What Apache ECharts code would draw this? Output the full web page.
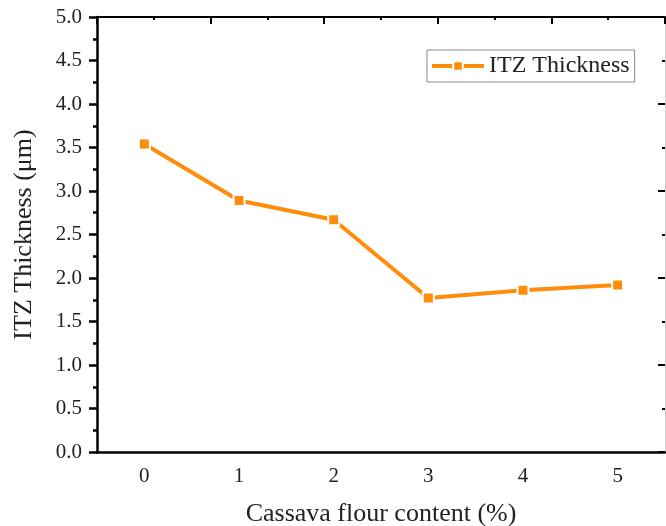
<!DOCTYPE html>
<html>
<head>
<meta charset="utf-8">
<script src="https://cdn.jsdelivr.net/npm/echarts@6/dist/echarts.min.js"></script>
<style>html,body{margin:0;padding:0;background:#fff;}#c{width:666px;height:526px;}</style>
</head>
<body>
<div id="c"></div>
<script>
const categories = ['0', '1', '2', '3', '4', '5'];
const itzThickness = [3.54, 2.89, 2.67, 1.77, 1.86, 1.92];
const seriesName = 'ITZ Thickness';
const xTitle = 'Cassava flour content (%)';
const yTitle = 'ITZ Thickness (μm)';

const FONT = '"Liberation Serif", "Times New Roman", serif';
const ORANGE = '#FF8C0A';
const chart = echarts.init(document.getElementById('c'));
chart.setOption({
  animation: false,
  backgroundColor: '#fff',
  textStyle: { fontFamily: FONT },
  grid: { left: 97, top: 17, right: 1, bottom: 74, containLabel: false, outerBoundsMode: 'none' },
  legend: {
    left: 427, top: 50,
    data: [seriesName],
    itemWidth: 52, itemHeight: 12,
    itemGap: 5,
    padding: [4, 5, 4, 3],
    borderColor: '#888', borderWidth: 1,
    lineStyle: { width: 4 },
    textStyle: { fontFamily: FONT, fontSize: 24, color: '#222' }
  },
  xAxis: [
    {
      type: 'category', data: categories, position: 'bottom', boundaryGap: true,
      axisLine: { lineStyle: { color: '#000', width: 2.5 } },
      axisTick: { alignWithLabel: true, length: 7, lineStyle: { color: '#000', width: 2.5 } },
      axisLabel: { fontFamily: FONT, fontSize: 21, color: '#222', margin: 14 },
      name: xTitle, nameLocation: 'middle', nameGap: 49,
      nameTextStyle: { fontFamily: FONT, fontSize: 26, color: '#222' }
    },
    {
      type: 'category', data: categories, position: 'bottom', boundaryGap: true, offset: 0,
      axisLine: { show: false },
      axisTick: { length: 4, lineStyle: { color: '#000', width: 2.5 } },
      axisLabel: { show: false }
    },
    {
      type: 'value', position: 'top', min: 0, max: 5, interval: 1,
      axisLine: { lineStyle: { color: '#000', width: 2 } },
      axisTick: { inside: true, length: 7, lineStyle: { color: '#000', width: 2 } },
      minorTick: { show: true, splitNumber: 2, length: 3, lineStyle: { color: '#000', width: 2 } },
      axisLabel: { show: false }, splitLine: { show: false }
    }
  ],
  yAxis: [
    {
      type: 'value', min: 0, max: 5, interval: 0.5, position: 'left',
      axisLine: { show: true, lineStyle: { color: '#000', width: 2.5 } },
      axisTick: { show: true, length: 8, lineStyle: { color: '#000', width: 2.5 } },
      minorTick: { show: true, splitNumber: 2, length: 4, lineStyle: { color: '#000', width: 2.5 } },
      axisLabel: { fontFamily: FONT, fontSize: 21, color: '#222', margin: 15, formatter: v => v.toFixed(1) },
      splitLine: { show: false },
      name: yTitle, nameLocation: 'middle', nameGap: 60,
      nameTextStyle: { fontFamily: FONT, fontSize: 26, color: '#222' }
    },
    {
      type: 'value', min: 0, max: 5, interval: 1, position: 'right',
      axisLine: { show: true, lineStyle: { color: '#ccc', width: 1 } },
      axisTick: { show: true, inside: true, length: 7, lineStyle: { color: '#000', width: 2 } },
      minorTick: { show: true, splitNumber: 2, length: 3, lineStyle: { color: '#000', width: 2 } },
      axisLabel: { show: false }, splitLine: { show: false }
    }
  ],
  series: [{
    name: seriesName, type: 'line', data: itzThickness,
    xAxisIndex: 0, yAxisIndex: 0,
    symbol: 'rect', symbolSize: 11,
    lineStyle: { color: ORANGE, width: 4 },
    itemStyle: { color: ORANGE, borderColor: '#fff', borderWidth: 2 }
  }]
});
</script>
</body>
</html>
